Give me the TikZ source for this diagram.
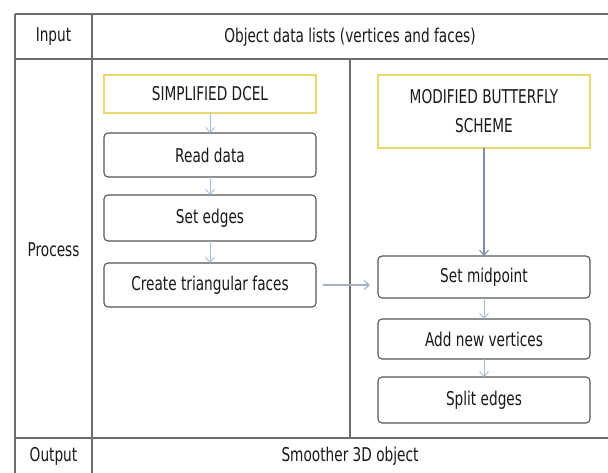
\documentclass[tikz,border=0pt]{standalone}
\usepackage{fontspec}
\setmainfont{DejaVu Sans}[FakeStretch=0.72]
\usepackage{xcolor}
\definecolor{tbline}{RGB}{110,110,110}
\definecolor{boxgray}{RGB}{85,85,85}
\definecolor{dcelyellow}{RGB}{236,214,110}
\definecolor{arrowblue}{RGB}{165,188,218}
\definecolor{linkblue}{RGB}{125,143,168}
\definecolor{txtgray}{RGB}{25,25,25}
\usetikzlibrary{arrows.meta,positioning}
\tikzset{
  cell/.style={font=\fontsize{19}{29}\selectfont, text=txtgray, align=center, inner sep=0pt},
  stepbox/.style={draw=boxgray, line width=1.1pt, rounded corners=4pt, fill=white,
                  minimum width=212pt, minimum height=#1, font=\fontsize{19}{29}\selectfont,
                  text=txtgray, align=center, inner sep=0pt, outer sep=0pt},
  headbox/.style={draw=dcelyellow, line width=1.8pt, fill=white,
                  minimum width=212pt, minimum height=#1, font=\fontsize{19}{29}\selectfont,
                  text=txtgray, align=center, inner sep=0pt, outer sep=0pt},
  tabline/.style={draw=tbline, line width=1.5pt},
  flow/.style={draw=arrowblue, line width=0.9pt, -{Straight Barb[length=5pt,width=9pt]}},
}

\begin{document}
\begin{tikzpicture}[x=1pt, y=-1pt]
\useasboundingbox (0,0) rectangle (608,473);

% table frame
\draw[tabline] (15,14) -- (608,14);
\draw[tabline] (15,59) -- (608,59);
\draw[tabline] (15,438) -- (608,438);
\draw[tabline] (15,14) -- (15,473);
\draw[tabline] (92,14) -- (92,473);
\draw[tabline] (350,59) -- (350,438);

% row labels and row texts
\node[cell] (in-lbl) at (53.5,37) {Input};
\node[cell] (in-txt) at (350,37) {Object data lists (vertices and faces)};
\node[cell] (pr-lbl) at (53.5,250) {Process};
\node[cell] (out-lbl) at (53.5,456) {Output};
\node[cell] (out-txt) at (350,456) {Smoother 3D object};

% simplified DCEL column
\node[headbox=38pt] (dcel) at (210,94) {SIMPLIFIED DCEL};
\node[stepbox=44pt] (read) at (210,155) {Read data};
\node[stepbox=46pt] (edges) at (210,218) {Set edges};
\node[stepbox=44pt] (faces) at (210,285) {Create triangular faces};

\draw[flow] (dcel) -- (read);
\draw[flow] (read) -- (edges);
\draw[flow] (edges) -- (faces);

% modified butterfly column
\node[headbox=73pt] (mbs) at (484,111.5) {MODIFIED BUTTERFLY\\SCHEME};
\node[stepbox=42pt] (midpt) at (484,277) {Set midpoint};
\node[stepbox=40pt] (newvert) at (484,339) {Add new vertices};
\node[stepbox=46pt] (split) at (484,400) {Split edges};

\draw[flow, draw=linkblue, line width=1.1pt] (mbs) -- (midpt);
\draw[flow] (midpt) -- (newvert);
\draw[flow] (newvert) -- (split);

% link between the two columns
\draw[flow, draw=linkblue!70, line width=1.1pt, shorten <=7pt, shorten >=8pt]
  (faces.east) -- (faces.east -| midpt.west);

\end{tikzpicture}
\end{document}
